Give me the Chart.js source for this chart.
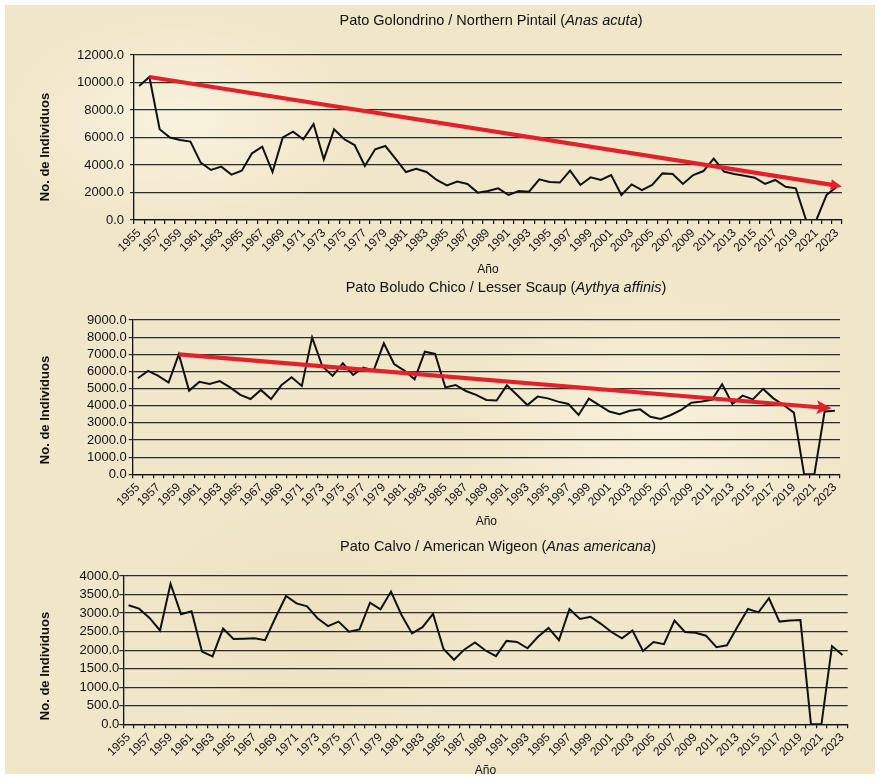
<!DOCTYPE html>
<html>
<head>
<meta charset="utf-8">
<script src="https://cdn.jsdelivr.net/npm/chart.js@4.4.1/dist/chart.umd.min.js"></script>
<style>
html,body{margin:0;padding:0;background:#ffffff;}
#page{position:absolute;left:5px;top:5px;width:870px;height:769px;overflow:hidden;
  background:
    radial-gradient(ellipse 260px 160px at 20% 15%, rgba(255,252,238,0.55), rgba(255,252,238,0) 70%),
    radial-gradient(ellipse 300px 200px at 75% 55%, rgba(255,252,238,0.5), rgba(255,252,238,0) 70%),
    radial-gradient(ellipse 240px 180px at 35% 80%, rgba(230,215,175,0.35), rgba(230,215,175,0) 70%),
    #f0e6c9;}
canvas{position:absolute;left:-5px;}
</style>
</head>
<body>
<div id="page">
  <canvas id="c1" width="880" height="280" style="top:-5px"></canvas>
  <canvas id="c2" width="880" height="252" style="top:275px"></canvas>
  <canvas id="c3" width="880" height="247" style="top:527px"></canvas>
</div>
<script>
// ---------- categories ----------
const years = ['1955','1956','1957','1958','1959','1960','1961','1962','1963','1964',
  '1965','1966','1967','1968','1969','1970','1971','1972','1973','1974',
  '1975','1976','1977','1978','1979','1980','1981','1982','1983','1984',
  '1985','1986','1987','1988','1989','1990','1991','1992','1993','1994',
  '1995','1996','1997','1998','1999','2000','2001','2002','2003','2004',
  '2005','2006','2007','2008','2009','2010','2011','2012','2013','2014',
  '2015','2016','2017','2018','2019','2020','2021','2022','2023'];

// ---------- series values ----------
const pintail = [9750,10400,6600,6000,5820,5700,4170,3640,3880,3300,
  3590,4850,5330,3490,6010,6420,5870,6980,4410,6590,
  5870,5450,3930,5140,5380,4450,3490,3730,3490,2910,
  2520,2790,2620,1990,2110,2300,1820,2110,2060,2960,
  2760,2720,3590,2550,3100,2910,3270,1820,2590,2180,
  2550,3390,3350,2620,3270,3560,4460,3520,3350,3220,
  3080,2620,2910,2420,2300,0,0,1820,2420];

const scaup = [5600,6030,5740,5350,7000,4880,5390,5270,5440,5070,
  4630,4390,4920,4390,5190,5660,5150,7990,6300,5740,
  6470,5790,6220,6050,7640,6430,6050,5540,7150,7020,
  5070,5210,4860,4630,4340,4300,5190,4630,4040,4530,
  4430,4240,4100,3460,4410,4040,3660,3500,3710,3790,
  3360,3230,3460,3750,4180,4240,4340,5250,4100,4590,
  4370,4980,4430,4040,3600,0,0,3660,3710];

const wigeon = [3210,3120,2870,2530,3790,2970,3050,1960,1830,2580,
  2300,2310,2320,2270,2880,3460,3260,3180,2860,2650,
  2770,2500,2560,3280,3100,3580,2950,2450,2620,2980,
  2030,1740,2020,2210,1990,1840,2250,2220,2050,2360,
  2600,2270,3110,2840,2900,2710,2490,2320,2530,1980,
  2220,2160,2800,2490,2470,2390,2080,2130,2630,3110,
  3020,3400,2770,2800,2810,0,0,2110,1870];

// ---------- trend arrows (start, end) ----------
const pintailTrend = [['1956', 10400], ['2023', 2500]];
const scaupTrend   = [['1959', 7000],  ['2022', 3880]];

// ---------- y tick settings ----------
const pintailTicks = [0, 12000, 2000];   // min, max, step
const scaupTicks   = [0, 9000, 1000];
const wigeonTicks  = [0, 4000, 500];

// ---------- titles ----------
const pintailTitle = ['Pato Golondrino / Northern Pintail (', 'Anas acuta', ')'];
const scaupTitle   = ['Pato Boludo Chico / Lesser Scaup (', 'Aythya affinis', ')'];
const wigeonTitle  = ['Pato Calvo / American Wigeon (', 'Anas americana', ')'];
const yTitle = 'No. de Individuos';
const xTitle = 'Año';

const FONT = '"Liberation Sans", Arial, Helvetica, sans-serif';
const INK = '#111111';

const titlePlugin = {
  id: 'mixedTitle',
  afterDraw(chart, args, o) {
    const ctx = chart.ctx;
    ctx.save();
    const normal = '14.5px ' + FONT;
    const ital = 'italic 14.5px ' + FONT;
    ctx.font = normal;
    const w1 = ctx.measureText(o.parts[0]).width;
    const w3 = ctx.measureText(o.parts[2]).width;
    ctx.font = ital;
    const w2 = ctx.measureText(o.parts[1]).width;
    let x = o.cx - (w1 + w2 + w3) / 2;
    ctx.textBaseline = 'middle';
    ctx.textAlign = 'left';
    ctx.fillStyle = INK;
    ctx.font = normal; ctx.fillText(o.parts[0], x, o.cy); x += w1;
    ctx.font = ital;   ctx.fillText(o.parts[1], x, o.cy); x += w2;
    ctx.font = normal; ctx.fillText(o.parts[2], x, o.cy);
    // vertical axis title
    ctx.translate(o.yx, o.yy);
    ctx.rotate(-Math.PI / 2);
    ctx.textAlign = 'center';
    ctx.font = 'bold 13px ' + FONT;
    ctx.fillText(yTitle, 0, 0);
    ctx.restore();
  }
};

const arrowPlugin = {
  id: 'arrowHead',
  afterDatasetsDraw(chart) {
    const ctx = chart.ctx;
    chart.data.datasets.forEach((ds, di) => {
      if (!ds.arrowHead) return;
      const pts = chart.getDatasetMeta(di).data;
      const a = pts[0], b = pts[pts.length - 1];
      const ang = Math.atan2(b.y - a.y, b.x - a.x);
      const h = ds.arrowHead;
      ctx.save();
      ctx.translate(b.x, b.y);
      ctx.rotate(ang);
      ctx.beginPath();
      ctx.moveTo(h.tip, 0);
      ctx.lineTo(-h.back, -h.half);
      ctx.lineTo(-h.back + h.notch, 0);
      ctx.lineTo(-h.back, h.half);
      ctx.closePath();
      ctx.fillStyle = ds.borderColor;
      ctx.fill();
      ctx.restore();
    });
  }
};

function makeChart(id, values, ticks, trend, title, geo) {
  const datasets = [];
  if (trend) {
    datasets.push({
      data: trend.map(p => ({x: p[0], y: p[1]})),
      borderColor: '#e3212b',
      borderWidth: 4.2,
      pointRadius: 0,
      borderCapStyle: 'butt',
      fill: false,
      arrowHead: geo.arrow
    });
  }
  datasets.push({
    data: values,
    borderColor: '#111111',
    borderWidth: 2,
    pointRadius: 0,
    tension: 0,
    fill: false,
    borderJoinStyle: 'miter'
  });
  return new Chart(document.getElementById(id), {
    type: 'line',
    data: { labels: years, datasets },
    plugins: [titlePlugin, arrowPlugin],
    options: {
      responsive: false,
      animation: false,
      devicePixelRatio: 1,
      layout: { padding: { top: geo.top, left: 34, right: 880 - geo.right, bottom: 0 } },
      plugins: {
        legend: { display: false },
        tooltip: { enabled: false },
        mixedTitle: { parts: title, cx: geo.tcx, cy: geo.tcy, yx: 45, yy: geo.ytcy }
      },
      scales: {
        x: {
          type: 'category',
          offset: true,
          grid: { display: true, offset: true, drawOnChartArea: false, drawTicks: true,
                  tickLength: 4, color: '#111', lineWidth: 1.2 },
          border: { display: true, color: '#111', width: 1.3 },
          ticks: {
            autoSkip: false, minRotation: 45, maxRotation: 45, padding: 2,
            color: INK, font: { family: FONT, size: 12 },
            callback: (v, i) => (i % 2 === 0 ? years[i] : '')
          },
          title: { display: true, text: xTitle, color: INK,
                   font: { family: FONT, size: 12 }, padding: { top: 0, bottom: geo.xtpad } },
          afterFit: s => { s.height = geo.h - geo.bottom; }
        },
        y: {
          min: ticks[0], max: ticks[1],
          grid: { color: '#2b2b2b', lineWidth: 1.2, tickLength: 4, drawTicks: true },
          border: { display: true, color: '#111', width: 1.3 },
          ticks: {
            autoSkip: false,
            stepSize: ticks[2], padding: geo.ypad, color: INK,
            font: { family: FONT, size: 13 },
            callback: v => Number(v).toFixed(1)
          },
          title: { display: false },
          afterFit: s => { s.width = geo.axisX - 34; }
        }
      }
    }
  });
}

// canvas absolute tops: c1 = 0, c2 = 280, c3 = 532
makeChart('c1', pintail, pintailTicks, pintailTrend, pintailTitle,
  { h: 280, top: 55, bottom: 220, axisX: 134, right: 842, ypad: 6, xtpad: 3,
    tcx: 491, tcy: 21, ytcy: 147, arrow: { tip: 5, back: 6, half: 5.5, notch: 0 } });

makeChart('c2', scaup, scaupTicks, scaupTrend, scaupTitle,
  { h: 252, top: 40, bottom: 194.3, axisX: 132.7, right: 840, ypad: 2, xtpad: 3,
    tcx: 506, tcy: 8, ytcy: 130, arrow: { tip: 7, back: 8, half: 7, notch: 3 } });

makeChart('c3', wigeon, wigeonTicks, null, wigeonTitle,
  { h: 247, top: 44, bottom: 192.3, axisX: 123.3, right: 847.7, ypad: 0, xtpad: 1,
    tcx: 498, tcy: 14.7, ytcy: 134 });
</script>
</body>
</html>
